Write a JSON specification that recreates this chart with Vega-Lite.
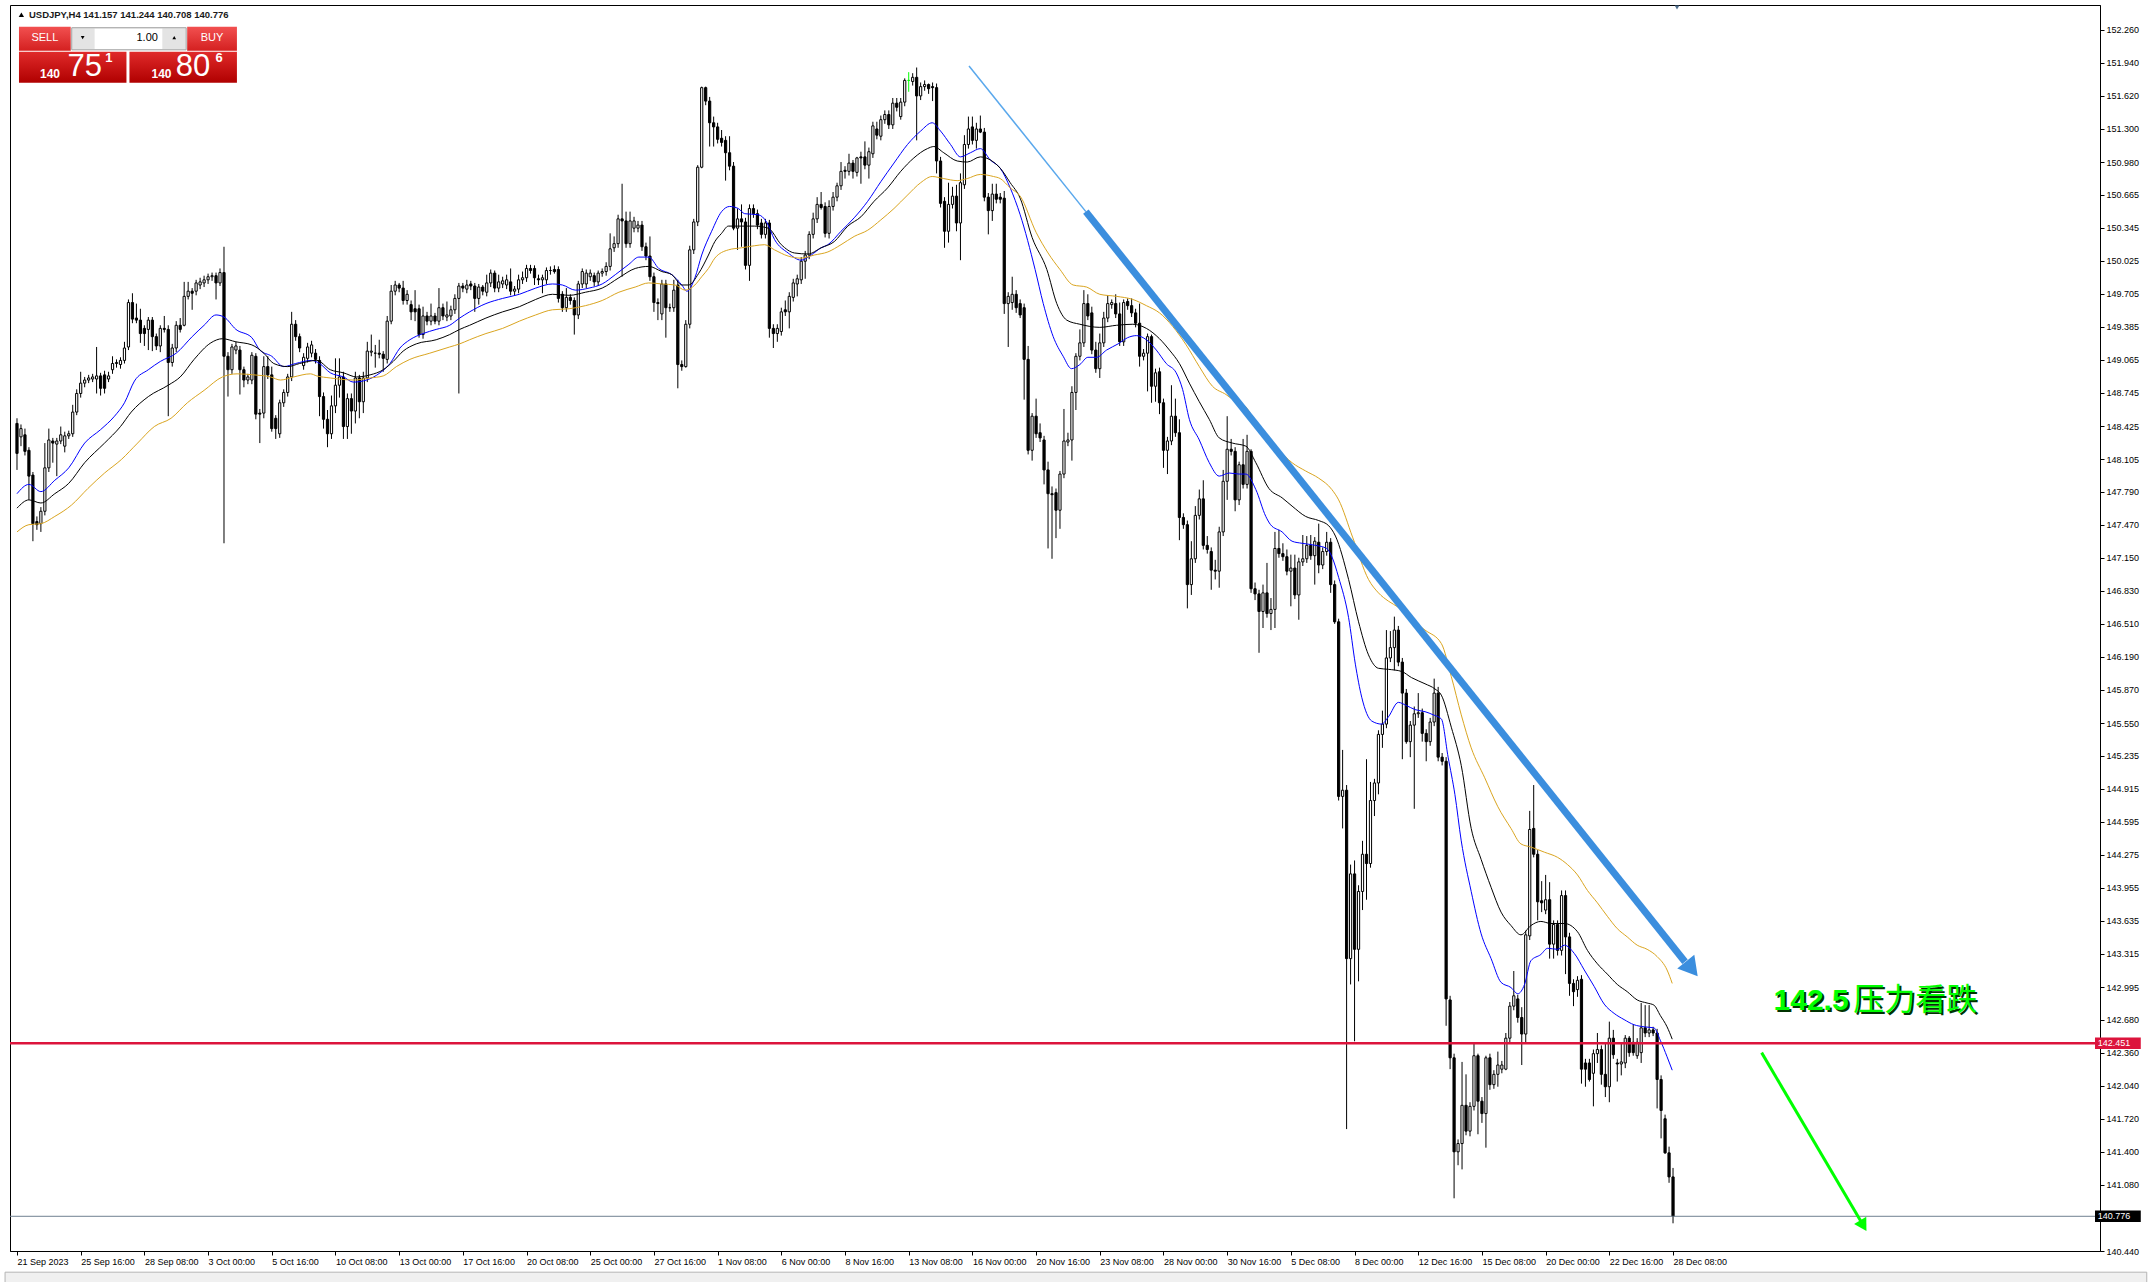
{
"$schema": "https://vega.github.io/schema/vega-lite/v6.json",
"width": 2090, "height": 1246,
"autosize": {"type": "none"},
"padding": {"left": 10, "top": 5, "right": 48, "bottom": 31},
"background": "#FFFFFF",
"config": {"view": {"stroke": "#000000", "strokeWidth": 1}, "font": "Liberation Sans"},
"resolve": {"axis": {"x": "independent", "y": "independent"}},
"datasets": {
"candles": [
{"i":0,"o":148.45,"h":148.5,"l":148.0,"c":148.16},{"i":1,"o":148.32,"h":148.44,"l":148.23,"c":148.4},{"i":2,"o":148.34,"h":148.4,"l":148.14,"c":148.18},{"i":3,"o":148.19,"h":148.22,"l":147.71,"c":147.94},{"i":4,"o":147.95,"h":147.98,"l":147.31,"c":147.48},{"i":5,"o":147.5,"h":147.55,"l":147.42,"c":147.47},{"i":6,"o":147.48,"h":147.64,"l":147.4,"c":147.6},{"i":7,"o":147.6,"h":148.26,"l":147.56,"c":148.02},{"i":8,"o":148.02,"h":148.4,"l":147.98,"c":148.29},{"i":9,"o":148.28,"h":148.31,"l":148.07,"c":148.26},
{"i":10,"o":148.25,"h":148.31,"l":147.94,"c":148.28},{"i":11,"o":148.28,"h":148.42,"l":148.25,"c":148.34},{"i":12,"o":148.23,"h":148.37,"l":148.17,"c":148.33},{"i":13,"o":148.33,"h":148.38,"l":148.3,"c":148.35},{"i":14,"o":148.35,"h":148.63,"l":148.32,"c":148.56},{"i":15,"o":148.56,"h":148.78,"l":148.53,"c":148.74},{"i":16,"o":148.74,"h":148.95,"l":148.7,"c":148.84},{"i":17,"o":148.84,"h":148.9,"l":148.8,"c":148.87},{"i":18,"o":148.87,"h":148.92,"l":148.84,"c":148.89},{"i":19,"o":148.88,"h":148.93,"l":148.85,"c":148.9},
{"i":20,"o":148.88,"h":149.19,"l":148.74,"c":148.91},{"i":21,"o":148.91,"h":148.94,"l":148.72,"c":148.79},{"i":22,"o":148.92,"h":148.96,"l":148.74,"c":148.79},{"i":23,"o":148.88,"h":148.95,"l":148.85,"c":148.91},{"i":24,"o":148.97,"h":149.1,"l":148.93,"c":149.03},{"i":25,"o":149.03,"h":149.07,"l":148.99,"c":149.04},{"i":26,"o":149.02,"h":149.09,"l":148.98,"c":149.06},{"i":27,"o":149.06,"h":149.24,"l":149.03,"c":149.18},{"i":28,"o":149.19,"h":149.65,"l":149.16,"c":149.62},{"i":29,"o":149.62,"h":149.71,"l":149.42,"c":149.46},
{"i":30,"o":149.47,"h":149.61,"l":149.42,"c":149.45},{"i":31,"o":149.45,"h":149.56,"l":149.23,"c":149.32},{"i":32,"o":149.37,"h":149.4,"l":149.2,"c":149.32},{"i":33,"o":149.36,"h":149.48,"l":149.16,"c":149.45},{"i":34,"o":149.45,"h":149.48,"l":149.15,"c":149.29},{"i":35,"o":149.29,"h":149.32,"l":149.16,"c":149.2},{"i":36,"o":149.2,"h":149.4,"l":149.14,"c":149.37},{"i":37,"o":149.37,"h":149.49,"l":149.33,"c":149.36},{"i":38,"o":149.36,"h":149.4,"l":148.52,"c":149.04},{"i":39,"o":149.04,"h":149.22,"l":149.0,"c":149.18},
{"i":40,"o":149.18,"h":149.44,"l":149.14,"c":149.4},{"i":41,"o":149.4,"h":149.47,"l":149.33,"c":149.36},{"i":42,"o":149.4,"h":149.82,"l":149.39,"c":149.68},{"i":43,"o":149.68,"h":149.82,"l":149.65,"c":149.73},{"i":44,"o":149.73,"h":149.76,"l":149.55,"c":149.71},{"i":45,"o":149.73,"h":149.84,"l":149.69,"c":149.81},{"i":46,"o":149.79,"h":149.86,"l":149.75,"c":149.82},{"i":47,"o":149.81,"h":149.88,"l":149.77,"c":149.84},{"i":48,"o":149.84,"h":149.9,"l":149.8,"c":149.87},{"i":49,"o":149.87,"h":149.91,"l":149.83,"c":149.88},
{"i":50,"o":149.88,"h":149.91,"l":149.65,"c":149.81},{"i":51,"o":149.81,"h":149.95,"l":149.78,"c":149.91},{"i":52,"o":149.91,"h":150.16,"l":147.29,"c":149.1},{"i":53,"o":149.1,"h":149.14,"l":148.71,"c":148.97},{"i":54,"o":148.97,"h":149.22,"l":148.93,"c":149.19},{"i":55,"o":149.16,"h":149.24,"l":149.12,"c":149.2},{"i":56,"o":149.16,"h":149.2,"l":148.73,"c":148.97},{"i":57,"o":148.97,"h":149.0,"l":148.8,"c":148.87},{"i":58,"o":148.87,"h":148.93,"l":148.83,"c":148.9},{"i":59,"o":148.87,"h":149.14,"l":148.83,"c":149.11},
{"i":60,"o":149.1,"h":149.13,"l":148.49,"c":148.54},{"i":61,"o":148.55,"h":148.59,"l":148.26,"c":148.54},{"i":62,"o":148.55,"h":149.1,"l":148.5,"c":149.0},{"i":63,"o":149.0,"h":149.1,"l":148.88,"c":148.92},{"i":64,"o":148.92,"h":149.0,"l":148.37,"c":148.4},{"i":65,"o":148.5,"h":148.53,"l":148.3,"c":148.4},{"i":66,"o":148.35,"h":148.68,"l":148.31,"c":148.65},{"i":67,"o":148.65,"h":148.78,"l":148.61,"c":148.75},{"i":68,"o":148.75,"h":148.93,"l":148.71,"c":148.9},{"i":69,"o":148.9,"h":149.53,"l":148.86,"c":149.41},
{"i":70,"o":149.41,"h":149.45,"l":149.25,"c":149.29},{"i":71,"o":149.29,"h":149.32,"l":149.14,"c":149.18},{"i":72,"o":149.01,"h":149.13,"l":148.97,"c":149.09},{"i":73,"o":149.08,"h":149.23,"l":149.04,"c":149.19},{"i":74,"o":149.13,"h":149.25,"l":149.09,"c":149.21},{"i":75,"o":149.13,"h":149.17,"l":149.03,"c":149.07},{"i":76,"o":149.06,"h":149.1,"l":148.52,"c":148.71},{"i":77,"o":148.71,"h":148.75,"l":148.4,"c":148.49},{"i":78,"o":148.49,"h":148.58,"l":148.22,"c":148.35},{"i":79,"o":148.35,"h":148.72,"l":148.3,"c":148.62},
{"i":80,"o":148.62,"h":149.08,"l":148.55,"c":148.82},{"i":81,"o":148.82,"h":149.08,"l":148.7,"c":148.9},{"i":82,"o":148.9,"h":148.95,"l":148.3,"c":148.42},{"i":83,"o":148.42,"h":148.74,"l":148.3,"c":148.69},{"i":84,"o":148.69,"h":148.74,"l":148.35,"c":148.57},{"i":85,"o":148.57,"h":148.95,"l":148.45,"c":148.89},{"i":86,"o":148.89,"h":148.92,"l":148.5,"c":148.66},{"i":87,"o":148.66,"h":148.95,"l":148.55,"c":148.89},{"i":88,"o":148.89,"h":149.24,"l":148.85,"c":149.15},{"i":89,"o":149.14,"h":149.31,"l":149.1,"c":149.15},
{"i":90,"o":149.13,"h":149.21,"l":148.99,"c":149.13},{"i":91,"o":149.13,"h":149.26,"l":149.08,"c":149.12},{"i":92,"o":149.12,"h":149.15,"l":148.95,"c":149.08},{"i":93,"o":149.07,"h":149.49,"l":149.03,"c":149.44},{"i":94,"o":149.44,"h":149.79,"l":149.41,"c":149.73},{"i":95,"o":149.73,"h":149.83,"l":149.69,"c":149.79},{"i":96,"o":149.79,"h":149.81,"l":149.72,"c":149.76},{"i":97,"o":149.76,"h":149.83,"l":149.6,"c":149.64},{"i":98,"o":149.64,"h":149.74,"l":149.6,"c":149.7},{"i":99,"o":149.6,"h":149.64,"l":149.45,"c":149.53},
{"i":100,"o":149.56,"h":149.74,"l":149.44,"c":149.53},{"i":101,"o":149.56,"h":149.6,"l":149.28,"c":149.31},{"i":102,"o":149.31,"h":149.58,"l":149.27,"c":149.49},{"i":103,"o":149.49,"h":149.53,"l":149.4,"c":149.44},{"i":104,"o":149.44,"h":149.61,"l":149.4,"c":149.49},{"i":105,"o":149.49,"h":149.52,"l":149.41,"c":149.44},{"i":106,"o":149.44,"h":149.76,"l":149.4,"c":149.57},{"i":107,"o":149.57,"h":149.61,"l":149.45,"c":149.49},{"i":108,"o":149.48,"h":149.63,"l":149.44,"c":149.5},{"i":109,"o":149.49,"h":149.59,"l":149.45,"c":149.55},
{"i":110,"o":149.55,"h":149.7,"l":149.51,"c":149.66},{"i":111,"o":149.66,"h":149.81,"l":148.74,"c":149.78},{"i":112,"o":149.78,"h":149.81,"l":149.72,"c":149.76},{"i":113,"o":149.75,"h":149.84,"l":149.71,"c":149.79},{"i":114,"o":149.8,"h":149.83,"l":149.74,"c":149.78},{"i":115,"o":149.78,"h":149.81,"l":149.53,"c":149.66},{"i":116,"o":149.66,"h":149.8,"l":149.6,"c":149.77},{"i":117,"o":149.77,"h":149.79,"l":149.69,"c":149.73},{"i":118,"o":149.72,"h":149.89,"l":149.68,"c":149.81},{"i":119,"o":149.81,"h":149.94,"l":149.77,"c":149.905},
{"i":120,"o":149.905,"h":149.93,"l":149.72,"c":149.76},{"i":121,"o":149.76,"h":149.89,"l":149.72,"c":149.82},{"i":122,"o":149.8,"h":149.87,"l":149.76,"c":149.83},{"i":123,"o":149.79,"h":149.89,"l":149.75,"c":149.84},{"i":124,"o":149.82,"h":149.95,"l":149.69,"c":149.73},{"i":125,"o":149.73,"h":149.78,"l":149.69,"c":149.75},{"i":126,"o":149.75,"h":149.89,"l":149.71,"c":149.84},{"i":127,"o":149.84,"h":149.92,"l":149.8,"c":149.86},{"i":128,"o":149.86,"h":149.985,"l":149.82,"c":149.95},{"i":129,"o":149.95,"h":149.985,"l":149.9,"c":149.93},
{"i":130,"o":149.95,"h":149.98,"l":149.79,"c":149.86},{"i":131,"o":149.85,"h":149.89,"l":149.79,"c":149.84},{"i":132,"o":149.84,"h":149.89,"l":149.71,"c":149.86},{"i":133,"o":149.84,"h":149.96,"l":149.8,"c":149.93},{"i":134,"o":149.93,"h":149.97,"l":149.89,"c":149.93},{"i":135,"o":149.94,"h":149.98,"l":149.9,"c":149.92},{"i":136,"o":149.94,"h":149.97,"l":149.62,"c":149.66},{"i":137,"o":149.7,"h":149.73,"l":149.53,"c":149.57},{"i":138,"o":149.57,"h":149.76,"l":149.53,"c":149.67},{"i":139,"o":149.67,"h":149.7,"l":149.6,"c":149.64},
{"i":140,"o":149.64,"h":149.67,"l":149.31,"c":149.5},{"i":141,"o":149.5,"h":149.83,"l":149.46,"c":149.8},{"i":142,"o":149.8,"h":149.95,"l":149.76,"c":149.92},{"i":143,"o":149.8,"h":149.94,"l":149.76,"c":149.905},{"i":144,"o":149.87,"h":149.94,"l":149.83,"c":149.905},{"i":145,"o":149.88,"h":149.91,"l":149.78,"c":149.82},{"i":146,"o":149.82,"h":149.93,"l":149.78,"c":149.905},{"i":147,"o":149.905,"h":149.95,"l":149.87,"c":149.92},{"i":148,"o":149.92,"h":150.01,"l":149.88,"c":149.97},{"i":149,"o":149.97,"h":150.29,"l":149.93,"c":150.14},
{"i":150,"o":150.15,"h":150.26,"l":150.11,"c":150.19},{"i":151,"o":150.19,"h":150.47,"l":150.15,"c":150.43},{"i":152,"o":150.43,"h":150.77,"l":149.87,"c":150.41},{"i":153,"o":150.41,"h":150.5,"l":150.15,"c":150.19},{"i":154,"o":150.19,"h":150.5,"l":150.15,"c":150.41},{"i":155,"o":150.34,"h":150.45,"l":150.3,"c":150.41},{"i":156,"o":150.34,"h":150.41,"l":150.3,"c":150.37},{"i":157,"o":150.37,"h":150.41,"l":150.12,"c":150.16},{"i":158,"o":150.16,"h":150.2,"l":150.03,"c":150.07},{"i":159,"o":150.07,"h":150.26,"l":149.83,"c":149.87},
{"i":160,"o":149.87,"h":149.91,"l":149.53,"c":149.62},{"i":161,"o":149.62,"h":149.66,"l":149.45,"c":149.61},{"i":162,"o":149.51,"h":149.84,"l":149.45,"c":149.8},{"i":163,"o":149.8,"h":149.84,"l":149.28,"c":149.57},{"i":164,"o":149.57,"h":149.61,"l":149.53,"c":149.57},{"i":165,"o":149.57,"h":149.84,"l":149.53,"c":149.74},{"i":166,"o":149.79,"h":149.84,"l":148.79,"c":149.02},{"i":167,"o":149.02,"h":149.06,"l":148.96,"c":149.0},{"i":168,"o":149.0,"h":149.45,"l":148.99,"c":149.41},{"i":169,"o":149.41,"h":150.17,"l":149.37,"c":150.13},
{"i":170,"o":150.13,"h":150.43,"l":150.09,"c":150.4},{"i":171,"o":150.4,"h":150.95,"l":150.36,"c":150.93},{"i":172,"o":150.93,"h":151.71,"l":150.92,"c":151.7},{"i":173,"o":151.7,"h":151.71,"l":151.53,"c":151.57},{"i":174,"o":151.57,"h":151.61,"l":151.13,"c":151.36},{"i":175,"o":151.36,"h":151.42,"l":151.13,"c":151.32},{"i":176,"o":151.32,"h":151.36,"l":151.16,"c":151.2},{"i":177,"o":151.21,"h":151.29,"l":151.13,"c":151.17},{"i":178,"o":151.19,"h":151.23,"l":150.8,"c":151.07},{"i":179,"o":151.07,"h":151.23,"l":150.9,"c":150.94},
{"i":180,"o":150.94,"h":150.98,"l":150.32,"c":150.34},{"i":181,"o":150.34,"h":150.53,"l":150.13,"c":150.43},{"i":182,"o":150.43,"h":150.57,"l":150.16,"c":150.4},{"i":183,"o":150.4,"h":150.44,"l":149.94,"c":149.98},{"i":184,"o":149.98,"h":150.57,"l":149.83,"c":150.53},{"i":185,"o":150.53,"h":150.57,"l":150.44,"c":150.48},{"i":186,"o":150.48,"h":150.52,"l":150.33,"c":150.37},{"i":187,"o":150.39,"h":150.43,"l":150.24,"c":150.28},{"i":188,"o":150.28,"h":150.43,"l":150.24,"c":150.39},{"i":189,"o":150.39,"h":150.42,"l":149.28,"c":149.37},
{"i":190,"o":149.37,"h":149.41,"l":149.18,"c":149.32},{"i":191,"o":149.32,"h":149.41,"l":149.24,"c":149.37},{"i":192,"o":149.34,"h":149.57,"l":149.3,"c":149.53},{"i":193,"o":149.55,"h":149.64,"l":149.49,"c":149.53},{"i":194,"o":149.53,"h":149.72,"l":149.37,"c":149.68},{"i":195,"o":149.67,"h":149.85,"l":149.63,"c":149.81},{"i":196,"o":149.8,"h":149.89,"l":149.68,"c":149.85},{"i":197,"o":149.84,"h":150.06,"l":149.8,"c":150.02},{"i":198,"o":150.02,"h":150.12,"l":149.85,"c":150.08},{"i":199,"o":150.08,"h":150.31,"l":150.04,"c":150.28},
{"i":200,"o":150.28,"h":150.49,"l":150.24,"c":150.43},{"i":201,"o":150.43,"h":150.64,"l":150.39,"c":150.57},{"i":202,"o":150.57,"h":150.69,"l":150.52,"c":150.54},{"i":203,"o":150.55,"h":150.59,"l":150.25,"c":150.29},{"i":204,"o":150.29,"h":150.61,"l":150.24,"c":150.55},{"i":205,"o":150.55,"h":150.69,"l":150.51,"c":150.64},{"i":206,"o":150.64,"h":150.78,"l":150.6,"c":150.75},{"i":207,"o":150.75,"h":150.98,"l":150.71,"c":150.89},{"i":208,"o":150.9,"h":150.94,"l":150.82,"c":150.89},{"i":209,"o":150.89,"h":151.06,"l":150.85,"c":150.97},
{"i":210,"o":150.97,"h":151.0,"l":150.82,"c":150.89},{"i":211,"o":150.88,"h":151.03,"l":150.84,"c":151.02},{"i":212,"o":151.03,"h":151.08,"l":150.77,"c":151.02},{"i":213,"o":151.03,"h":151.18,"l":150.91,"c":150.95},{"i":214,"o":150.95,"h":151.12,"l":150.82,"c":151.08},{"i":215,"o":151.06,"h":151.37,"l":151.02,"c":151.33},{"i":216,"o":151.3,"h":151.37,"l":151.2,"c":151.24},{"i":217,"o":151.23,"h":151.43,"l":151.19,"c":151.39},{"i":218,"o":151.39,"h":151.48,"l":151.35,"c":151.44},{"i":219,"o":151.44,"h":151.48,"l":151.3,"c":151.34},
{"i":220,"o":151.34,"h":151.6,"l":151.3,"c":151.55},{"i":221,"o":151.55,"h":151.6,"l":151.47,"c":151.51},{"i":222,"o":151.42,"h":151.6,"l":151.39,"c":151.56},{"i":223,"o":151.56,"h":151.79,"l":151.52,"c":151.77},{"i":224,"o":151.77,"h":151.85,"l":151.66,"c":151.77},{"i":225,"o":151.76,"h":151.84,"l":151.72,"c":151.8},{"i":226,"o":151.8,"h":151.895,"l":151.19,"c":151.62},{"i":227,"o":151.62,"h":151.75,"l":151.58,"c":151.71},{"i":228,"o":151.71,"h":151.77,"l":151.67,"c":151.73},{"i":229,"o":151.73,"h":151.74,"l":151.64,"c":151.69},
{"i":230,"o":151.71,"h":151.75,"l":151.57,"c":151.7},{"i":231,"o":151.7,"h":151.74,"l":150.87,"c":150.99},{"i":232,"o":150.99,"h":151.03,"l":150.54,"c":150.58},{"i":233,"o":150.6,"h":150.64,"l":150.15,"c":150.31},{"i":234,"o":150.31,"h":150.78,"l":150.2,"c":150.57},{"i":235,"o":150.57,"h":150.74,"l":150.53,"c":150.65},{"i":236,"o":150.65,"h":150.76,"l":150.31,"c":150.39},{"i":237,"o":150.39,"h":150.87,"l":150.03,"c":150.78},{"i":238,"o":150.76,"h":151.24,"l":150.72,"c":151.15},{"i":239,"o":151.15,"h":151.42,"l":151.11,"c":151.3},
{"i":240,"o":151.32,"h":151.42,"l":151.15,"c":151.19},{"i":241,"o":151.19,"h":151.36,"l":151.11,"c":151.3},{"i":242,"o":151.3,"h":151.43,"l":151.26,"c":151.27},{"i":243,"o":151.27,"h":151.31,"l":150.6,"c":150.64},{"i":244,"o":150.64,"h":150.68,"l":150.28,"c":150.51},{"i":245,"o":150.51,"h":150.77,"l":150.41,"c":150.67},{"i":246,"o":150.67,"h":150.77,"l":150.58,"c":150.62},{"i":247,"o":150.64,"h":150.68,"l":150.58,"c":150.62},{"i":248,"o":150.63,"h":150.7,"l":149.51,"c":149.61},{"i":249,"o":149.61,"h":149.72,"l":149.19,"c":149.68},
{"i":250,"o":149.62,"h":149.87,"l":149.55,"c":149.7},{"i":251,"o":149.7,"h":149.74,"l":149.52,"c":149.57},{"i":252,"o":149.61,"h":149.65,"l":149.47,"c":149.5},{"i":253,"o":149.57,"h":149.61,"l":148.68,"c":149.07},{"i":254,"o":149.07,"h":149.2,"l":148.15,"c":148.19},{"i":255,"o":148.19,"h":148.55,"l":148.09,"c":148.52},{"i":256,"o":148.52,"h":148.69,"l":148.31,"c":148.35},{"i":257,"o":148.36,"h":148.45,"l":148.27,"c":148.31},{"i":258,"o":148.29,"h":148.33,"l":147.86,"c":148.0},{"i":259,"o":148.0,"h":148.08,"l":147.24,"c":147.77},
{"i":260,"o":147.77,"h":147.84,"l":147.14,"c":147.76},{"i":261,"o":147.78,"h":147.82,"l":147.34,"c":147.61},{"i":262,"o":147.61,"h":147.99,"l":147.43,"c":147.96},{"i":263,"o":147.96,"h":148.59,"l":147.92,"c":148.28},{"i":264,"o":148.27,"h":148.36,"l":148.23,"c":148.29},{"i":265,"o":148.29,"h":148.81,"l":148.09,"c":148.75},{"i":266,"o":148.75,"h":149.13,"l":148.58,"c":149.1},{"i":267,"o":149.1,"h":149.36,"l":149.06,"c":149.23},{"i":268,"o":149.23,"h":149.74,"l":149.19,"c":149.61},{"i":269,"o":149.61,"h":149.7,"l":149.45,"c":149.49},
{"i":270,"o":149.52,"h":149.58,"l":149.12,"c":149.16},{"i":271,"o":149.16,"h":149.24,"l":148.94,"c":148.98},{"i":272,"o":148.98,"h":149.32,"l":148.89,"c":149.23},{"i":273,"o":149.23,"h":149.53,"l":149.19,"c":149.47},{"i":274,"o":149.47,"h":149.69,"l":149.43,"c":149.61},{"i":275,"o":149.6,"h":149.65,"l":149.56,"c":149.62},{"i":276,"o":149.61,"h":149.7,"l":149.47,"c":149.51},{"i":277,"o":149.51,"h":149.62,"l":149.2,"c":149.24},{"i":278,"o":149.24,"h":149.65,"l":149.2,"c":149.62},{"i":279,"o":149.63,"h":149.66,"l":149.55,"c":149.59},
{"i":280,"o":149.59,"h":149.66,"l":149.48,"c":149.52},{"i":281,"o":149.52,"h":149.56,"l":149.38,"c":149.42},{"i":282,"o":149.42,"h":149.61,"l":149.0,"c":149.1},{"i":283,"o":149.1,"h":149.17,"l":149.06,"c":149.13},{"i":284,"o":149.13,"h":149.32,"l":148.76,"c":149.29},{"i":285,"o":149.29,"h":149.31,"l":148.65,"c":148.81},{"i":286,"o":148.81,"h":148.98,"l":148.66,"c":148.94},{"i":287,"o":148.95,"h":148.99,"l":148.54,"c":148.65},{"i":288,"o":148.65,"h":148.69,"l":148.02,"c":148.19},{"i":289,"o":148.19,"h":148.32,"l":147.96,"c":148.28},
{"i":290,"o":148.28,"h":148.82,"l":148.24,"c":148.52},{"i":291,"o":148.52,"h":148.69,"l":148.32,"c":148.36},{"i":292,"o":148.36,"h":148.49,"l":147.32,"c":147.54},{"i":293,"o":147.54,"h":147.58,"l":147.43,"c":147.47},{"i":294,"o":147.47,"h":147.51,"l":146.66,"c":146.89},{"i":295,"o":146.89,"h":147.31,"l":146.79,"c":147.14},{"i":296,"o":147.14,"h":147.65,"l":147.1,"c":147.56},{"i":297,"o":147.56,"h":147.81,"l":147.52,"c":147.72},{"i":298,"o":147.72,"h":147.9,"l":147.23,"c":147.27},{"i":299,"o":147.27,"h":147.36,"l":147.19,"c":147.23},
{"i":300,"o":147.21,"h":147.25,"l":146.84,"c":147.03},{"i":301,"o":147.03,"h":147.13,"l":146.94,"c":147.02},{"i":302,"o":147.02,"h":147.45,"l":146.86,"c":147.4},{"i":303,"o":147.4,"h":148.0,"l":147.36,"c":147.89},{"i":304,"o":147.89,"h":148.52,"l":147.71,"c":148.2},{"i":305,"o":148.2,"h":148.3,"l":148.14,"c":148.18},{"i":306,"o":148.18,"h":148.22,"l":147.6,"c":147.71},{"i":307,"o":147.71,"h":148.08,"l":147.66,"c":148.05},{"i":308,"o":148.05,"h":148.3,"l":147.82,"c":147.86},{"i":309,"o":147.86,"h":148.34,"l":147.82,"c":148.18},
{"i":310,"o":148.18,"h":148.2,"l":146.81,"c":146.85},{"i":311,"o":146.85,"h":146.91,"l":146.74,"c":146.8},{"i":312,"o":146.8,"h":146.84,"l":146.23,"c":146.63},{"i":313,"o":146.63,"h":146.89,"l":146.47,"c":146.81},{"i":314,"o":146.81,"h":147.1,"l":146.57,"c":146.61},{"i":315,"o":146.61,"h":146.76,"l":146.45,"c":146.65},{"i":316,"o":146.65,"h":147.4,"l":146.47,"c":147.24},{"i":317,"o":147.24,"h":147.42,"l":147.15,"c":147.19},{"i":318,"o":147.19,"h":147.29,"l":147.12,"c":147.16},{"i":319,"o":147.16,"h":147.23,"l":146.98,"c":147.02},
{"i":320,"o":147.02,"h":147.18,"l":146.68,"c":147.05},{"i":321,"o":147.05,"h":147.18,"l":146.75,"c":146.79},{"i":322,"o":146.79,"h":147.15,"l":146.55,"c":147.11},{"i":323,"o":147.11,"h":147.37,"l":147.07,"c":147.14},{"i":324,"o":147.14,"h":147.36,"l":147.1,"c":147.27},{"i":325,"o":147.27,"h":147.37,"l":147.13,"c":147.17},{"i":326,"o":147.17,"h":147.35,"l":146.89,"c":147.31},{"i":327,"o":147.3,"h":147.48,"l":147.0,"c":147.08},{"i":328,"o":147.08,"h":147.25,"l":147.04,"c":147.21},{"i":329,"o":147.21,"h":147.4,"l":147.17,"c":147.3},
{"i":330,"o":147.3,"h":147.34,"l":146.81,"c":146.89},{"i":331,"o":146.89,"h":146.93,"l":146.51,"c":146.53},{"i":332,"o":146.53,"h":146.56,"l":144.8,"c":144.84},{"i":333,"o":144.84,"h":145.29,"l":144.53,"c":144.9},{"i":334,"o":144.9,"h":144.95,"l":141.62,"c":143.27},{"i":335,"o":143.27,"h":144.18,"l":143.02,"c":144.09},{"i":336,"o":144.09,"h":144.22,"l":142.47,"c":143.36},{"i":337,"o":143.36,"h":143.98,"l":143.05,"c":143.92},{"i":338,"o":143.92,"h":144.41,"l":143.74,"c":144.28},{"i":339,"o":144.28,"h":145.2,"l":143.84,"c":144.19},
{"i":340,"o":144.19,"h":144.98,"l":144.15,"c":144.8},{"i":341,"o":144.8,"h":145.01,"l":144.65,"c":144.97},{"i":342,"o":144.97,"h":145.48,"l":144.86,"c":145.44},{"i":343,"o":145.44,"h":145.67,"l":145.31,"c":145.54},{"i":344,"o":145.54,"h":146.45,"l":145.5,"c":146.18},{"i":345,"o":146.18,"h":146.44,"l":146.14,"c":146.28},{"i":346,"o":146.28,"h":146.58,"l":146.06,"c":146.45},{"i":347,"o":146.45,"h":146.49,"l":146.1,"c":146.14},{"i":348,"o":146.14,"h":146.18,"l":145.2,"c":145.84},{"i":349,"o":145.84,"h":145.88,"l":145.35,"c":145.37},
{"i":350,"o":145.37,"h":145.57,"l":145.22,"c":145.53},{"i":351,"o":145.53,"h":145.71,"l":144.72,"c":145.64},{"i":352,"o":145.64,"h":145.84,"l":145.6,"c":145.65},{"i":353,"o":145.65,"h":145.69,"l":145.37,"c":145.45},{"i":354,"o":145.45,"h":145.49,"l":145.18,"c":145.37},{"i":355,"o":145.37,"h":145.6,"l":145.33,"c":145.56},{"i":356,"o":145.56,"h":145.98,"l":145.52,"c":145.84},{"i":357,"o":145.84,"h":145.9,"l":145.18,"c":145.22},{"i":358,"o":145.22,"h":145.26,"l":145.14,"c":145.18},{"i":359,"o":145.18,"h":145.22,"l":142.62,"c":142.88},
{"i":360,"o":142.87,"h":142.91,"l":142.2,"c":142.31},{"i":361,"o":142.31,"h":142.35,"l":140.95,"c":141.4},{"i":362,"o":141.4,"h":141.52,"l":141.27,"c":141.48},{"i":363,"o":141.48,"h":142.27,"l":141.23,"c":141.85},{"i":364,"o":141.85,"h":142.15,"l":141.56,"c":141.6},{"i":365,"o":141.6,"h":141.88,"l":141.55,"c":141.84},{"i":366,"o":141.84,"h":142.45,"l":141.8,"c":142.33},{"i":367,"o":142.33,"h":142.35,"l":141.57,"c":141.89},{"i":368,"o":141.89,"h":141.93,"l":141.68,"c":141.77},{"i":369,"o":141.77,"h":142.33,"l":141.44,"c":142.31},
{"i":370,"o":142.31,"h":142.35,"l":142.0,"c":142.05},{"i":371,"o":142.05,"h":142.19,"l":142.01,"c":142.15},{"i":372,"o":142.15,"h":142.37,"l":142.03,"c":142.24},{"i":373,"o":142.2,"h":142.28,"l":142.16,"c":142.24},{"i":374,"o":142.2,"h":142.55,"l":142.19,"c":142.5},{"i":375,"o":142.5,"h":142.85,"l":142.46,"c":142.81},{"i":376,"o":142.81,"h":143.15,"l":142.77,"c":142.91},{"i":377,"o":142.88,"h":142.92,"l":142.65,"c":142.7},{"i":378,"o":142.7,"h":142.8,"l":142.24,"c":142.54},{"i":379,"o":142.54,"h":143.54,"l":142.45,"c":143.5},
{"i":380,"o":143.49,"h":144.7,"l":143.45,"c":144.52},{"i":381,"o":144.53,"h":144.95,"l":144.25,"c":144.28},{"i":382,"o":144.28,"h":144.32,"l":143.64,"c":143.82},{"i":383,"o":143.83,"h":144.02,"l":143.72,"c":143.81},{"i":384,"o":143.74,"h":144.08,"l":143.7,"c":143.84},{"i":385,"o":143.84,"h":144.01,"l":143.27,"c":143.41},{"i":386,"o":143.41,"h":143.64,"l":143.27,"c":143.6},{"i":387,"o":143.6,"h":143.64,"l":143.3,"c":143.35},{"i":388,"o":143.35,"h":143.93,"l":143.3,"c":143.88},{"i":389,"o":143.88,"h":143.93,"l":143.12,"c":143.48},
{"i":390,"o":143.48,"h":143.52,"l":142.91,"c":143.03},{"i":391,"o":143.03,"h":143.07,"l":142.81,"c":142.95},{"i":392,"o":142.97,"h":143.1,"l":142.9,"c":143.06},{"i":393,"o":143.07,"h":143.11,"l":142.06,"c":142.2},{"i":394,"o":142.26,"h":142.3,"l":142.03,"c":142.2},{"i":395,"o":142.26,"h":142.3,"l":142.08,"c":142.1},{"i":396,"o":142.16,"h":142.39,"l":141.84,"c":142.35},{"i":397,"o":142.35,"h":142.55,"l":142.26,"c":142.39},{"i":398,"o":142.39,"h":142.43,"l":142.05,"c":142.15},{"i":399,"o":142.15,"h":142.45,"l":141.93,"c":142.03},
{"i":400,"o":142.03,"h":142.66,"l":141.88,"c":142.5},{"i":401,"o":142.5,"h":142.58,"l":142.3,"c":142.34},{"i":402,"o":142.26,"h":142.3,"l":142.08,"c":142.25},{"i":403,"o":142.25,"h":142.45,"l":142.14,"c":142.27},{"i":404,"o":142.26,"h":142.53,"l":142.21,"c":142.5},{"i":405,"o":142.5,"h":142.52,"l":142.32,"c":142.36},{"i":406,"o":142.46,"h":142.63,"l":142.33,"c":142.36},{"i":407,"o":142.33,"h":142.5,"l":142.3,"c":142.46},{"i":408,"o":142.36,"h":142.84,"l":142.26,"c":142.6},{"i":409,"o":142.6,"h":142.82,"l":142.51,"c":142.55},
{"i":410,"o":142.55,"h":142.82,"l":142.51,"c":142.58},{"i":411,"o":142.58,"h":142.61,"l":142.52,"c":142.55},{"i":412,"o":142.55,"h":142.59,"l":141.82,"c":142.1},{"i":413,"o":142.1,"h":142.14,"l":141.53,"c":141.8},{"i":414,"o":141.72,"h":141.76,"l":141.38,"c":141.39},{"i":415,"o":141.39,"h":141.45,"l":141.1,"c":141.157},{"i":416,"o":141.157,"h":141.244,"l":140.708,"c":140.776}
],
"ma": [
{"s":"fast","i":0,"v":147.77},{"s":"fast","i":3,"v":147.86},{"s":"fast","i":6,"v":147.79},{"s":"fast","i":9.5,"v":147.9},{"s":"fast","i":13,"v":148.02},{"s":"fast","i":17,"v":148.26},{"s":"fast","i":21,"v":148.39},{"s":"fast","i":24.5,"v":148.52},{"s":"fast","i":27,"v":148.65},{"s":"fast","i":29.5,"v":148.86},{"s":"fast","i":33,"v":148.97},{"s":"fast","i":36,"v":149.05},{"s":"fast","i":40,"v":149.13},{"s":"fast","i":44,"v":149.29},{"s":"fast","i":47,"v":149.4},{"s":"fast","i":50,"v":149.5},{"s":"fast","i":52,"v":149.48},{"s":"fast","i":55,"v":149.36},{"s":"fast","i":59,"v":149.28},{"s":"fast","i":61,"v":149.16},{"s":"fast","i":64,"v":149.1},{"s":"fast","i":67,"v":149.0},{"s":"fast","i":70,"v":149.03},{"s":"fast","i":74,"v":149.06},{"s":"fast","i":76,"v":149.03},{"s":"fast","i":78.7,"v":148.94},{"s":"fast","i":82,"v":148.9},{"s":"fast","i":84.5,"v":148.85},{"s":"fast","i":87.8,"v":148.87},{"s":"fast","i":91.2,"v":148.94},{"s":"fast","i":93.7,"v":149.03},{"s":"fast","i":96.2,"v":149.18},{"s":"fast","i":98.7,"v":149.26},{"s":"fast","i":102,"v":149.32},{"s":"fast","i":105.3,"v":149.36},{"s":"fast","i":108.7,"v":149.4},{"s":"fast","i":111.2,"v":149.47},{"s":"fast","i":113.7,"v":149.53},{"s":"fast","i":117.8,"v":149.61},{"s":"fast","i":122,"v":149.66},{"s":"fast","i":126.2,"v":149.7},{"s":"fast","i":130.3,"v":149.76},{"s":"fast","i":134.5,"v":149.8},{"s":"fast","i":137,"v":149.79},{"s":"fast","i":140.3,"v":149.74},{"s":"fast","i":143.7,"v":149.76},{"s":"fast","i":147,"v":149.8},{"s":"fast","i":150.3,"v":149.89},{"s":"fast","i":153.7,"v":149.99},{"s":"fast","i":156.2,"v":150.06},{"s":"fast","i":158.7,"v":150.06},{"s":"fast","i":161.2,"v":149.95},{"s":"fast","i":164.5,"v":149.89},{"s":"fast","i":167,"v":149.79},{"s":"fast","i":168.3,"v":149.73},{"s":"fast","i":170.3,"v":149.86},{"s":"fast","i":172,"v":150.08},{"s":"fast","i":174.5,"v":150.31},{"s":"fast","i":177,"v":150.5},{"s":"fast","i":179,"v":150.55},{"s":"fast","i":181.2,"v":150.53},{"s":"fast","i":182.8,"v":150.48},{"s":"fast","i":186.2,"v":150.47},{"s":"fast","i":188.3,"v":150.4},{"s":"fast","i":190.3,"v":150.23},{"s":"fast","i":193.7,"v":150.1},{"s":"fast","i":197,"v":150.03},{"s":"fast","i":199.5,"v":150.08},{"s":"fast","i":202,"v":150.15},{"s":"fast","i":203.7,"v":150.18},{"s":"fast","i":207,"v":150.31},{"s":"fast","i":210.3,"v":150.44},{"s":"fast","i":213.7,"v":150.6},{"s":"fast","i":217,"v":150.79},{"s":"fast","i":220.3,"v":150.97},{"s":"fast","i":223.7,"v":151.15},{"s":"fast","i":227,"v":151.28},{"s":"fast","i":229.9,"v":151.36},{"s":"fast","i":232,"v":151.28},{"s":"fast","i":234.5,"v":151.15},{"s":"fast","i":237,"v":151.03},{"s":"fast","i":239.5,"v":151.07},{"s":"fast","i":242,"v":151.11},{"s":"fast","i":244.5,"v":151.0},{"s":"fast","i":247,"v":150.92},{"s":"fast","i":249.5,"v":150.73},{"s":"fast","i":252,"v":150.47},{"s":"fast","i":255.75,"v":149.94},{"s":"fast","i":257.8,"v":149.61},{"s":"fast","i":260.3,"v":149.29},{"s":"fast","i":262.8,"v":149.1},{"s":"fast","i":264.9,"v":148.98},{"s":"fast","i":267,"v":149.02},{"s":"fast","i":269,"v":149.09},{"s":"fast","i":271.2,"v":149.09},{"s":"fast","i":273.7,"v":149.16},{"s":"fast","i":276.6,"v":149.22},{"s":"fast","i":279,"v":149.28},{"s":"fast","i":281.2,"v":149.3},{"s":"fast","i":283.7,"v":149.26},{"s":"fast","i":286.2,"v":149.16},{"s":"fast","i":288.7,"v":149.03},{"s":"fast","i":291.2,"v":148.94},{"s":"fast","i":292.8,"v":148.78},{"s":"fast","i":294.5,"v":148.49},{"s":"fast","i":297,"v":148.29},{"s":"fast","i":299.5,"v":148.07},{"s":"fast","i":302,"v":147.94},{"s":"fast","i":304.5,"v":147.97},{"s":"fast","i":307,"v":147.96},{"s":"fast","i":308.7,"v":147.96},{"s":"fast","i":311.2,"v":147.81},{"s":"fast","i":313.7,"v":147.55},{"s":"fast","i":314.9,"v":147.47},{"s":"fast","i":317.8,"v":147.4},{"s":"fast","i":320.3,"v":147.31},{"s":"fast","i":322.8,"v":147.29},{"s":"fast","i":326.2,"v":147.27},{"s":"fast","i":329,"v":147.24},{"s":"fast","i":330.3,"v":147.16},{"s":"fast","i":332,"v":146.96},{"s":"fast","i":334.5,"v":146.57},{"s":"fast","i":336.2,"v":146.12},{"s":"fast","i":337.8,"v":145.8},{"s":"fast","i":340.3,"v":145.57},{"s":"fast","i":342.8,"v":145.54},{"s":"fast","i":344.5,"v":145.61},{"s":"fast","i":347,"v":145.75},{"s":"fast","i":349,"v":145.72},{"s":"fast","i":351.2,"v":145.68},{"s":"fast","i":353.7,"v":145.66},{"s":"fast","i":355.75,"v":145.63},{"s":"fast","i":357.8,"v":145.59},{"s":"fast","i":359.5,"v":145.22},{"s":"fast","i":361.2,"v":144.86},{"s":"fast","i":362.8,"v":144.41},{"s":"fast","i":365.3,"v":143.92},{"s":"fast","i":367.8,"v":143.51},{"s":"fast","i":370.3,"v":143.27},{"s":"fast","i":372.8,"v":143.04},{"s":"fast","i":375.3,"v":142.99},{"s":"fast","i":377,"v":142.93},{"s":"fast","i":378.7,"v":143.02},{"s":"fast","i":380.3,"v":143.25},{"s":"fast","i":382.8,"v":143.31},{"s":"fast","i":384.5,"v":143.37},{"s":"fast","i":387,"v":143.36},{"s":"fast","i":388.7,"v":143.4},{"s":"fast","i":391.2,"v":143.32},{"s":"fast","i":393.7,"v":143.16},{"s":"fast","i":396.2,"v":143.0},{"s":"fast","i":398.7,"v":142.83},{"s":"fast","i":401.2,"v":142.74},{"s":"fast","i":403.7,"v":142.68},{"s":"fast","i":406.2,"v":142.63},{"s":"fast","i":408.7,"v":142.61},{"s":"fast","i":411.2,"v":142.6},{"s":"fast","i":412.8,"v":142.48},{"s":"fast","i":414.5,"v":142.32},{"s":"fast","i":415.8,"v":142.19},
{"s":"mid","i":0,"v":147.63},{"s":"mid","i":3,"v":147.71},{"s":"mid","i":6,"v":147.68},{"s":"mid","i":9.5,"v":147.77},{"s":"mid","i":13,"v":147.87},{"s":"mid","i":17,"v":148.07},{"s":"mid","i":22,"v":148.26},{"s":"mid","i":26,"v":148.42},{"s":"mid","i":28.7,"v":148.56},{"s":"mid","i":33,"v":148.71},{"s":"mid","i":38,"v":148.82},{"s":"mid","i":41,"v":148.9},{"s":"mid","i":44.5,"v":149.07},{"s":"mid","i":48.7,"v":149.23},{"s":"mid","i":51.6,"v":149.27},{"s":"mid","i":55,"v":149.24},{"s":"mid","i":59,"v":149.21},{"s":"mid","i":62,"v":149.13},{"s":"mid","i":64.5,"v":149.03},{"s":"mid","i":68,"v":149.0},{"s":"mid","i":71,"v":149.03},{"s":"mid","i":75.3,"v":149.06},{"s":"mid","i":78.7,"v":148.97},{"s":"mid","i":82,"v":148.94},{"s":"mid","i":85.3,"v":148.9},{"s":"mid","i":88.7,"v":148.92},{"s":"mid","i":92,"v":148.97},{"s":"mid","i":94.5,"v":149.05},{"s":"mid","i":97,"v":149.15},{"s":"mid","i":100.3,"v":149.22},{"s":"mid","i":105.3,"v":149.26},{"s":"mid","i":108.7,"v":149.31},{"s":"mid","i":111.2,"v":149.36},{"s":"mid","i":113.7,"v":149.4},{"s":"mid","i":117.8,"v":149.47},{"s":"mid","i":122,"v":149.53},{"s":"mid","i":126.2,"v":149.58},{"s":"mid","i":130.3,"v":149.65},{"s":"mid","i":134.5,"v":149.7},{"s":"mid","i":138.7,"v":149.69},{"s":"mid","i":142.8,"v":149.72},{"s":"mid","i":147,"v":149.76},{"s":"mid","i":151.2,"v":149.86},{"s":"mid","i":155.3,"v":149.95},{"s":"mid","i":158.7,"v":149.97},{"s":"mid","i":162,"v":149.92},{"s":"mid","i":164.5,"v":149.89},{"s":"mid","i":167,"v":149.79},{"s":"mid","i":168.7,"v":149.79},{"s":"mid","i":171.2,"v":149.9},{"s":"mid","i":173.7,"v":150.08},{"s":"mid","i":175.3,"v":150.21},{"s":"mid","i":177,"v":150.29},{"s":"mid","i":178.7,"v":150.36},{"s":"mid","i":181.2,"v":150.36},{"s":"mid","i":185.3,"v":150.36},{"s":"mid","i":188.7,"v":150.34},{"s":"mid","i":192,"v":150.18},{"s":"mid","i":195.3,"v":150.1},{"s":"mid","i":198.7,"v":150.09},{"s":"mid","i":202,"v":150.15},{"s":"mid","i":205.3,"v":150.21},{"s":"mid","i":208.7,"v":150.36},{"s":"mid","i":212,"v":150.45},{"s":"mid","i":215.3,"v":150.6},{"s":"mid","i":218.7,"v":150.73},{"s":"mid","i":222,"v":150.89},{"s":"mid","i":225.3,"v":151.02},{"s":"mid","i":228.7,"v":151.11},{"s":"mid","i":230.3,"v":151.13},{"s":"mid","i":232.8,"v":151.07},{"s":"mid","i":236.2,"v":150.99},{"s":"mid","i":238.7,"v":150.98},{"s":"mid","i":242,"v":151.03},{"s":"mid","i":245.3,"v":150.98},{"s":"mid","i":247,"v":150.92},{"s":"mid","i":249.5,"v":150.78},{"s":"mid","i":252,"v":150.63},{"s":"mid","i":255,"v":150.25},{"s":"mid","i":258.7,"v":149.94},{"s":"mid","i":261.2,"v":149.61},{"s":"mid","i":263.7,"v":149.45},{"s":"mid","i":267,"v":149.41},{"s":"mid","i":272,"v":149.38},{"s":"mid","i":276.2,"v":149.4},{"s":"mid","i":280.3,"v":149.41},{"s":"mid","i":283.7,"v":149.37},{"s":"mid","i":287,"v":149.27},{"s":"mid","i":289.5,"v":149.16},{"s":"mid","i":292,"v":149.03},{"s":"mid","i":294.5,"v":148.84},{"s":"mid","i":297,"v":148.66},{"s":"mid","i":299.5,"v":148.49},{"s":"mid","i":302,"v":148.31},{"s":"mid","i":305.3,"v":148.26},{"s":"mid","i":308.7,"v":148.23},{"s":"mid","i":311.2,"v":148.07},{"s":"mid","i":314.5,"v":147.82},{"s":"mid","i":317.8,"v":147.73},{"s":"mid","i":320.3,"v":147.65},{"s":"mid","i":323.7,"v":147.55},{"s":"mid","i":327,"v":147.51},{"s":"mid","i":329.5,"v":147.46},{"s":"mid","i":331.2,"v":147.36},{"s":"mid","i":334.5,"v":146.94},{"s":"mid","i":337,"v":146.53},{"s":"mid","i":339.5,"v":146.21},{"s":"mid","i":342,"v":146.08},{"s":"mid","i":344.5,"v":146.07},{"s":"mid","i":347.8,"v":146.05},{"s":"mid","i":350.3,"v":145.99},{"s":"mid","i":353.7,"v":145.93},{"s":"mid","i":356.2,"v":145.88},{"s":"mid","i":357.8,"v":145.82},{"s":"mid","i":360.3,"v":145.51},{"s":"mid","i":362.8,"v":145.14},{"s":"mid","i":365.3,"v":144.53},{"s":"mid","i":367.8,"v":144.23},{"s":"mid","i":370.3,"v":143.96},{"s":"mid","i":372.8,"v":143.72},{"s":"mid","i":375.3,"v":143.59},{"s":"mid","i":377.8,"v":143.5},{"s":"mid","i":380.3,"v":143.59},{"s":"mid","i":382.8,"v":143.63},{"s":"mid","i":385.3,"v":143.61},{"s":"mid","i":388.7,"v":143.61},{"s":"mid","i":392,"v":143.53},{"s":"mid","i":394.5,"v":143.35},{"s":"mid","i":397,"v":143.22},{"s":"mid","i":399.5,"v":143.12},{"s":"mid","i":402,"v":143.02},{"s":"mid","i":404.5,"v":142.95},{"s":"mid","i":407,"v":142.87},{"s":"mid","i":409.5,"v":142.84},{"s":"mid","i":411.2,"v":142.82},{"s":"mid","i":412.8,"v":142.72},{"s":"mid","i":414.5,"v":142.61},{"s":"mid","i":415.8,"v":142.49},
{"s":"slow","i":0,"v":147.4},{"s":"slow","i":3,"v":147.47},{"s":"slow","i":6,"v":147.48},{"s":"slow","i":9.5,"v":147.55},{"s":"slow","i":13.7,"v":147.66},{"s":"slow","i":17.8,"v":147.82},{"s":"slow","i":22,"v":147.97},{"s":"slow","i":26.2,"v":148.1},{"s":"slow","i":30.3,"v":148.26},{"s":"slow","i":34.5,"v":148.42},{"s":"slow","i":38.7,"v":148.5},{"s":"slow","i":42.8,"v":148.65},{"s":"slow","i":47,"v":148.77},{"s":"slow","i":51.6,"v":148.9},{"s":"slow","i":55.3,"v":148.93},{"s":"slow","i":59.5,"v":148.92},{"s":"slow","i":63.7,"v":148.9},{"s":"slow","i":66.2,"v":148.87},{"s":"slow","i":69.5,"v":148.9},{"s":"slow","i":73.7,"v":148.93},{"s":"slow","i":75.3,"v":148.91},{"s":"slow","i":78.7,"v":148.89},{"s":"slow","i":84.5,"v":148.87},{"s":"slow","i":88.7,"v":148.89},{"s":"slow","i":92,"v":148.91},{"s":"slow","i":95.3,"v":149.0},{"s":"slow","i":98.7,"v":149.07},{"s":"slow","i":103.7,"v":149.13},{"s":"slow","i":108.7,"v":149.19},{"s":"slow","i":111.2,"v":149.22},{"s":"slow","i":113.7,"v":149.26},{"s":"slow","i":117.8,"v":149.32},{"s":"slow","i":122,"v":149.37},{"s":"slow","i":126.2,"v":149.44},{"s":"slow","i":130.3,"v":149.5},{"s":"slow","i":134.5,"v":149.55},{"s":"slow","i":138.7,"v":149.56},{"s":"slow","i":142.8,"v":149.59},{"s":"slow","i":147,"v":149.64},{"s":"slow","i":151.2,"v":149.72},{"s":"slow","i":155.3,"v":149.77},{"s":"slow","i":158.7,"v":149.81},{"s":"slow","i":162,"v":149.8},{"s":"slow","i":165.3,"v":149.79},{"s":"slow","i":167.8,"v":149.74},{"s":"slow","i":170.3,"v":149.79},{"s":"slow","i":172,"v":149.87},{"s":"slow","i":173.7,"v":149.95},{"s":"slow","i":175.3,"v":150.05},{"s":"slow","i":178.7,"v":150.13},{"s":"slow","i":182,"v":150.15},{"s":"slow","i":185.3,"v":150.17},{"s":"slow","i":187.8,"v":150.18},{"s":"slow","i":190.3,"v":150.13},{"s":"slow","i":193.7,"v":150.07},{"s":"slow","i":197,"v":150.05},{"s":"slow","i":200.3,"v":150.08},{"s":"slow","i":203.7,"v":150.11},{"s":"slow","i":207,"v":150.18},{"s":"slow","i":210.3,"v":150.26},{"s":"slow","i":213.7,"v":150.32},{"s":"slow","i":217,"v":150.42},{"s":"slow","i":220.3,"v":150.53},{"s":"slow","i":223.7,"v":150.66},{"s":"slow","i":227,"v":150.78},{"s":"slow","i":229.9,"v":150.84},{"s":"slow","i":232.8,"v":150.82},{"s":"slow","i":236.2,"v":150.8},{"s":"slow","i":238.7,"v":150.82},{"s":"slow","i":242,"v":150.86},{"s":"slow","i":245.3,"v":150.84},{"s":"slow","i":247,"v":150.82},{"s":"slow","i":249.5,"v":150.73},{"s":"slow","i":252,"v":150.65},{"s":"slow","i":256,"v":150.3},{"s":"slow","i":259,"v":150.1},{"s":"slow","i":262,"v":149.94},{"s":"slow","i":265.3,"v":149.79},{"s":"slow","i":268.7,"v":149.77},{"s":"slow","i":272,"v":149.7},{"s":"slow","i":276.2,"v":149.68},{"s":"slow","i":280.3,"v":149.65},{"s":"slow","i":283.7,"v":149.59},{"s":"slow","i":287,"v":149.52},{"s":"slow","i":290.3,"v":149.39},{"s":"slow","i":293.7,"v":149.21},{"s":"slow","i":297,"v":149.0},{"s":"slow","i":300.3,"v":148.81},{"s":"slow","i":303.7,"v":148.73},{"s":"slow","i":306.2,"v":148.66},{"s":"slow","i":308.7,"v":148.61},{"s":"slow","i":311.2,"v":148.45},{"s":"slow","i":313.7,"v":148.32},{"s":"slow","i":317,"v":148.19},{"s":"slow","i":320.3,"v":148.07},{"s":"slow","i":323.7,"v":147.99},{"s":"slow","i":327,"v":147.92},{"s":"slow","i":330.3,"v":147.81},{"s":"slow","i":332,"v":147.71},{"s":"slow","i":335.5,"v":147.35},{"s":"slow","i":339.5,"v":146.94},{"s":"slow","i":342,"v":146.81},{"s":"slow","i":344.5,"v":146.73},{"s":"slow","i":347,"v":146.67},{"s":"slow","i":350.3,"v":146.55},{"s":"slow","i":353.7,"v":146.45},{"s":"slow","i":357.8,"v":146.32},{"s":"slow","i":360.3,"v":146.0},{"s":"slow","i":362.8,"v":145.63},{"s":"slow","i":365.3,"v":145.31},{"s":"slow","i":368.7,"v":145.02},{"s":"slow","i":372,"v":144.74},{"s":"slow","i":375.3,"v":144.53},{"s":"slow","i":377.8,"v":144.38},{"s":"slow","i":380.3,"v":144.35},{"s":"slow","i":383.7,"v":144.3},{"s":"slow","i":387,"v":144.25},{"s":"slow","i":389.5,"v":144.18},{"s":"slow","i":392,"v":144.08},{"s":"slow","i":394.5,"v":143.93},{"s":"slow","i":397,"v":143.81},{"s":"slow","i":399.5,"v":143.68},{"s":"slow","i":402,"v":143.56},{"s":"slow","i":404.5,"v":143.48},{"s":"slow","i":407,"v":143.4},{"s":"slow","i":409.5,"v":143.36},{"s":"slow","i":412,"v":143.29},{"s":"slow","i":414.5,"v":143.16},{"s":"slow","i":415.8,"v":143.03}
],
"trendThin": [{"i":239.15,"p":151.91},{"i":268.5,"p":150.5}],
"trendThick": [{"i":268.5,"p":150.5},{"i":419.0,"p":143.24}],
"greenArrow": [{"i":438.25,"p":142.36},{"i":463.3,"p":140.72}]
},
"layer": [
{"data":{"values":[{}]},"mark":{"type":"rect","fill":"#F0F0F0","stroke":"#B4B4B4","strokeWidth":1},
 "encoding":{"x":{"datum":-3,"type":"quantitative","scale":{"domain":[-0.5,522],"nice":false,"zero":false},"axis":null},"x2":{"datum":535},"y":{"datum":140.1,"type":"quantitative","scale":{"domain":[140.44,152.5],"nice":false,"zero":false},"axis":null},"y2":{"datum":140.235}}},
{"data":{"name":"candles"},"mark":{"type":"rule","strokeWidth":1},
 "encoding":{
  "x":{"field":"i","type":"quantitative","scale":{"domain":[-0.5,522],"nice":false,"zero":false},
   "axis":{"orient":"bottom","title":null,"grid":false,"values":[0,16,32,48,64,80,96,112,128,144,160,176,192,208,224,240,256,272,288,304,320,336,352,368,384,400,416],
    "labelExpr":"['21 Sep 2023','25 Sep 16:00','28 Sep 08:00','3 Oct 00:00','5 Oct 16:00','10 Oct 08:00','13 Oct 00:00','17 Oct 16:00','20 Oct 08:00','25 Oct 00:00','27 Oct 16:00','1 Nov 08:00','6 Nov 00:00','8 Nov 16:00','13 Nov 08:00','16 Nov 00:00','20 Nov 16:00','23 Nov 08:00','28 Nov 00:00','30 Nov 16:00','5 Dec 08:00','8 Dec 00:00','12 Dec 16:00','15 Dec 08:00','20 Dec 00:00','22 Dec 16:00','28 Dec 08:00'][round(datum.value/16)]",
    "labelAlign":"left","labelOffset":0,"labelFontSize":9,"labelFont":"Liberation Sans","labelColor":"#000000","tickColor":"#000000","domainColor":"#000000","tickSize":4,"labelPadding":2,"labelOverlap":false,"labelFlush":false,"labelBound":false}},
  "y":{"field":"l","type":"quantitative","scale":{"domain":[140.44,152.5],"nice":false,"zero":false},
   "axis":{"orient":"right","title":null,"grid":false,"format":".3f",
    "values":[152.26,151.94,151.62,151.3,150.98,150.665,150.345,150.025,149.705,149.385,149.065,148.745,148.425,148.105,147.79,147.47,147.15,146.83,146.51,146.19,145.87,145.55,145.235,144.915,144.595,144.275,143.955,143.635,143.315,142.995,142.68,142.36,142.04,141.72,141.4,141.08,140.44],
    "labelFontSize":9,"labelFont":"Liberation Sans","labelColor":"#000000","tickColor":"#000000","domainColor":"#000000","tickSize":4,"labelPadding":2,"labelOverlap":false,"labelFlush":false,"labelBound":false}},
  "y2":{"field":"h"},
  "stroke":{"condition":{"test":"datum.i == 224","value":"#00FF00"},"value":"#000000"}}},
{"data":{"name":"candles"},"mark":{"type":"bar","width":2.2,"strokeWidth":1},
 "encoding":{
  "x":{"field":"i","type":"quantitative","axis":null},
  "y":{"field":"o","type":"quantitative","axis":null},
  "y2":{"field":"c"},
  "fill":{"condition":{"test":"datum.c >= datum.o","value":"#FFFFFF"},"value":"#000000"},
  "stroke":{"condition":{"test":"datum.i == 224","value":"#00FF00"},"value":"#000000"}}},
{"data":{"name":"ma"},"mark":{"type":"line","strokeWidth":1,"interpolate":"monotone"},
 "encoding":{
  "x":{"field":"i","type":"quantitative","axis":null},
  "y":{"field":"v","type":"quantitative","axis":null},
  "color":{"field":"s","type":"nominal","scale":{"domain":["fast","mid","slow"],"range":["#0000FF","#000000","#DAA520"]},"legend":null}}},
{"data":{"values":[{}]},"mark":{"type":"rule","stroke":"#708090","strokeWidth":1},
 "encoding":{"y":{"datum":140.776,"type":"quantitative","axis":null}}},
{"data":{"values":[{}]},"mark":{"type":"rule","stroke":"#DC143C","strokeWidth":2.5},
 "encoding":{"y":{"datum":142.451,"type":"quantitative","axis":null}}},
{"data":{"name":"trendThin"},"mark":{"type":"line","stroke":"#5AA8EC","strokeWidth":1.5},
 "encoding":{"x":{"field":"i","type":"quantitative","axis":null},"y":{"field":"p","type":"quantitative","axis":null}}},
{"data":{"name":"trendThick"},"mark":{"type":"line","stroke":"#3B8EDE","strokeWidth":7,"strokeCap":"butt"},
 "encoding":{"x":{"field":"i","type":"quantitative","axis":null},"y":{"field":"p","type":"quantitative","axis":null}}},
{"data":{"values":[{}]},"mark":{"type":"point","shape":"triangle-right","angle":51.2,"size":480,"filled":true,"fill":"#3B8EDE","opacity":1,"strokeWidth":0},
 "encoding":{"x":{"datum":420.7,"type":"quantitative","axis":null},"y":{"datum":143.17,"type":"quantitative","axis":null}}},
{"data":{"name":"greenArrow"},"mark":{"type":"line","stroke":"#00FF00","strokeWidth":3},
 "encoding":{"x":{"field":"i","type":"quantitative","axis":null},"y":{"field":"p","type":"quantitative","axis":null}}},
{"data":{"values":[{}]},"mark":{"type":"point","shape":"triangle-right","angle":59.3,"size":200,"filled":true,"fill":"#00FF00","opacity":1,"strokeWidth":0},
 "encoding":{"x":{"datum":463.8,"type":"quantitative","axis":null},"y":{"datum":140.685,"type":"quantitative","axis":null}}},
{"data":{"values":[{}]},"mark":{"type":"text","text":"142.5","font":"Liberation Sans","fontWeight":"bold","fontSize":30,"align":"left","baseline":"middle","fill":"#003300","dx":2,"dy":2},
 "encoding":{"x":{"datum":441.25,"type":"quantitative","axis":null},"y":{"datum":142.86,"type":"quantitative","axis":null}}},
{"data":{"values":[{}]},"mark":{"type":"text","text":"142.5","font":"Liberation Sans","fontWeight":"bold","fontSize":30,"align":"left","baseline":"middle","fill":"#00FF00"},
 "encoding":{"x":{"datum":441.25,"type":"quantitative","axis":null},"y":{"datum":142.86,"type":"quantitative","axis":null}}},
{"data":{"values":[{}]},"mark":{"type":"text","text":"压力看跌","font":"Noto Sans CJK SC","fontSize":31,"align":"left","baseline":"middle","fill":"#003300","dx":2,"dy":2},
 "encoding":{"x":{"datum":461.25,"type":"quantitative","axis":null},"y":{"datum":142.86,"type":"quantitative","axis":null}}},
{"data":{"values":[{}]},"mark":{"type":"text","text":"压力看跌","font":"Noto Sans CJK SC","fontSize":31,"align":"left","baseline":"middle","fill":"#00FF00"},
 "encoding":{"x":{"datum":461.25,"type":"quantitative","axis":null},"y":{"datum":142.86,"type":"quantitative","axis":null}}},
{"data":{"values":[{}]},"mark":{"type":"rect","fill":"#DC143C"},
 "encoding":{"x":{"datum":522,"type":"quantitative","axis":null},"x2":{"datum":533.5},"y":{"datum":142.395,"type":"quantitative","axis":null},"y2":{"datum":142.507}}},
{"data":{"values":[{}]},"mark":{"type":"text","text":"142.451","font":"Liberation Sans","fontSize":9,"align":"left","baseline":"middle","fill":"#FFFFFF"},
 "encoding":{"x":{"datum":522.7,"type":"quantitative","axis":null},"y":{"datum":142.451,"type":"quantitative","axis":null}}},
{"data":{"values":[{}]},"mark":{"type":"rect","fill":"#000000"},
 "encoding":{"x":{"datum":522,"type":"quantitative","axis":null},"x2":{"datum":533.5},"y":{"datum":140.72,"type":"quantitative","axis":null},"y2":{"datum":140.832}}},
{"data":{"values":[{}]},"mark":{"type":"text","text":"140.776","font":"Liberation Sans","fontSize":9,"align":"left","baseline":"middle","fill":"#FFFFFF"},
 "encoding":{"x":{"datum":522.7,"type":"quantitative","axis":null},"y":{"datum":140.776,"type":"quantitative","axis":null}}},
{"data":{"values":[{}]},"mark":{"type":"rect","fill":{"gradient":"linear","x1":0,"y1":0,"x2":0,"y2":1,"stops":[{"offset":0,"color":"#F25050"},{"offset":1,"color":"#D42020"}]}},
 "encoding":{"x":{"datum":0.5,"type":"quantitative","axis":null},"x2":{"datum":13.5},"y":{"datum":152.057,"type":"quantitative","axis":null},"y2":{"datum":152.289}}},
{"data":{"values":[{}]},"mark":{"type":"rect","fill":{"gradient":"linear","x1":0,"y1":0,"x2":0,"y2":1,"stops":[{"offset":0,"color":"#F25050"},{"offset":1,"color":"#D42020"}]}},
 "encoding":{"x":{"datum":42.75,"type":"quantitative","axis":null},"x2":{"datum":55.25},"y":{"datum":152.057,"type":"quantitative","axis":null},"y2":{"datum":152.289}}},
{"data":{"values":[{}]},"mark":{"type":"rect","fill":{"gradient":"linear","x1":0,"y1":0,"x2":0,"y2":1,"stops":[{"offset":0,"color":"#E02A2A"},{"offset":1,"color":"#B00000"}]}},
 "encoding":{"x":{"datum":0.5,"type":"quantitative","axis":null},"x2":{"datum":27.5},"y":{"datum":151.747,"type":"quantitative","axis":null},"y2":{"datum":152.047}}},
{"data":{"values":[{}]},"mark":{"type":"rect","fill":{"gradient":"linear","x1":0,"y1":0,"x2":0,"y2":1,"stops":[{"offset":0,"color":"#E02A2A"},{"offset":1,"color":"#B00000"}]}},
 "encoding":{"x":{"datum":28.25,"type":"quantitative","axis":null},"x2":{"datum":55.25},"y":{"datum":151.747,"type":"quantitative","axis":null},"y2":{"datum":152.047}}},
{"data":{"values":[{}]},"mark":{"type":"rect","fill":"#E4E4E4","stroke":"#A0A0A0","strokeWidth":1},
 "encoding":{"x":{"datum":13.75,"type":"quantitative","axis":null},"x2":{"datum":42.5},"y":{"datum":152.066,"type":"quantitative","axis":null},"y2":{"datum":152.28}}},
{"data":{"values":[{}]},"mark":{"type":"rect","fill":"#FFFFFF"},
 "encoding":{"x":{"datum":19.5,"type":"quantitative","axis":null},"x2":{"datum":36.5},"y":{"datum":152.075,"type":"quantitative","axis":null},"y2":{"datum":152.27}}},
{"data":{"values":[{}]},"mark":{"type":"point","shape":"triangle-down","size":14,"filled":true,"fill":"#000000","opacity":1,"strokeWidth":0},
 "encoding":{"x":{"datum":16.5,"type":"quantitative","axis":null},"y":{"datum":152.185,"type":"quantitative","axis":null}}},
{"data":{"values":[{}]},"mark":{"type":"point","shape":"triangle-up","size":14,"filled":true,"fill":"#000000","opacity":1,"strokeWidth":0},
 "encoding":{"x":{"datum":39.5,"type":"quantitative","axis":null},"y":{"datum":152.185,"type":"quantitative","axis":null}}},
{"data":{"values":[{}]},"mark":{"type":"text","text":"1.00","font":"Liberation Sans","fontSize":11,"align":"right","baseline":"middle","fill":"#000000"},
 "encoding":{"x":{"datum":35.4,"type":"quantitative","axis":null},"y":{"datum":152.185,"type":"quantitative","axis":null}}},
{"data":{"values":[{}]},"mark":{"type":"text","text":"SELL","font":"Liberation Sans","fontSize":11,"align":"center","baseline":"middle","fill":"#FFFFFF"},
 "encoding":{"x":{"datum":7.0,"type":"quantitative","axis":null},"y":{"datum":152.178,"type":"quantitative","axis":null}}},
{"data":{"values":[{}]},"mark":{"type":"text","text":"BUY","font":"Liberation Sans","fontSize":11,"align":"center","baseline":"middle","fill":"#FFFFFF"},
 "encoding":{"x":{"datum":49.0,"type":"quantitative","axis":null},"y":{"datum":152.178,"type":"quantitative","axis":null}}},
{"data":{"values":[{}]},"mark":{"type":"text","text":"140","font":"Liberation Sans","fontWeight":"bold","fontSize":12,"align":"center","baseline":"middle","fill":"#FFFFFF"},
 "encoding":{"x":{"datum":8.3,"type":"quantitative","axis":null},"y":{"datum":151.834,"type":"quantitative","axis":null}}},
{"data":{"values":[{}]},"mark":{"type":"text","text":"75","font":"Liberation Sans","fontSize":31,"align":"center","baseline":"middle","fill":"#FFFFFF"},
 "encoding":{"x":{"datum":17.0,"type":"quantitative","axis":null},"y":{"datum":151.9,"type":"quantitative","axis":null}}},
{"data":{"values":[{}]},"mark":{"type":"text","text":"1","font":"Liberation Sans","fontWeight":"bold","fontSize":13,"align":"center","baseline":"middle","fill":"#FFFFFF"},
 "encoding":{"x":{"datum":23.1,"type":"quantitative","axis":null},"y":{"datum":151.99,"type":"quantitative","axis":null}}},
{"data":{"values":[{}]},"mark":{"type":"text","text":"140","font":"Liberation Sans","fontWeight":"bold","fontSize":12,"align":"center","baseline":"middle","fill":"#FFFFFF"},
 "encoding":{"x":{"datum":36.3,"type":"quantitative","axis":null},"y":{"datum":151.834,"type":"quantitative","axis":null}}},
{"data":{"values":[{}]},"mark":{"type":"text","text":"80","font":"Liberation Sans","fontSize":31,"align":"center","baseline":"middle","fill":"#FFFFFF"},
 "encoding":{"x":{"datum":44.2,"type":"quantitative","axis":null},"y":{"datum":151.9,"type":"quantitative","axis":null}}},
{"data":{"values":[{}]},"mark":{"type":"text","text":"6","font":"Liberation Sans","fontWeight":"bold","fontSize":13,"align":"center","baseline":"middle","fill":"#FFFFFF"},
 "encoding":{"x":{"datum":50.75,"type":"quantitative","axis":null},"y":{"datum":151.99,"type":"quantitative","axis":null}}},
{"data":{"values":[{}]},"mark":{"type":"point","shape":"triangle-up","size":28,"filled":true,"fill":"#000000","opacity":1,"strokeWidth":0},
 "encoding":{"x":{"datum":1.1,"type":"quantitative","axis":null},"y":{"datum":152.405,"type":"quantitative","axis":null}}},
{"data":{"values":[{}]},"mark":{"type":"text","text":"USDJPY,H4  141.157 141.244 140.708 140.776","font":"Liberation Sans","fontWeight":"bold","fontSize":9.5,"align":"left","baseline":"middle","fill":"#1A1A1A"},
 "encoding":{"x":{"datum":3.0,"type":"quantitative","axis":null},"y":{"datum":152.405,"type":"quantitative","axis":null}}},
{"data":{"values":[{}]},"mark":{"type":"point","shape":"triangle-down","size":22,"filled":true,"fill":"#4F6F8F","opacity":1,"strokeWidth":0},
 "encoding":{"x":{"datum":417,"type":"quantitative","axis":null},"y":{"datum":152.475,"type":"quantitative","axis":null}}}
]
}
